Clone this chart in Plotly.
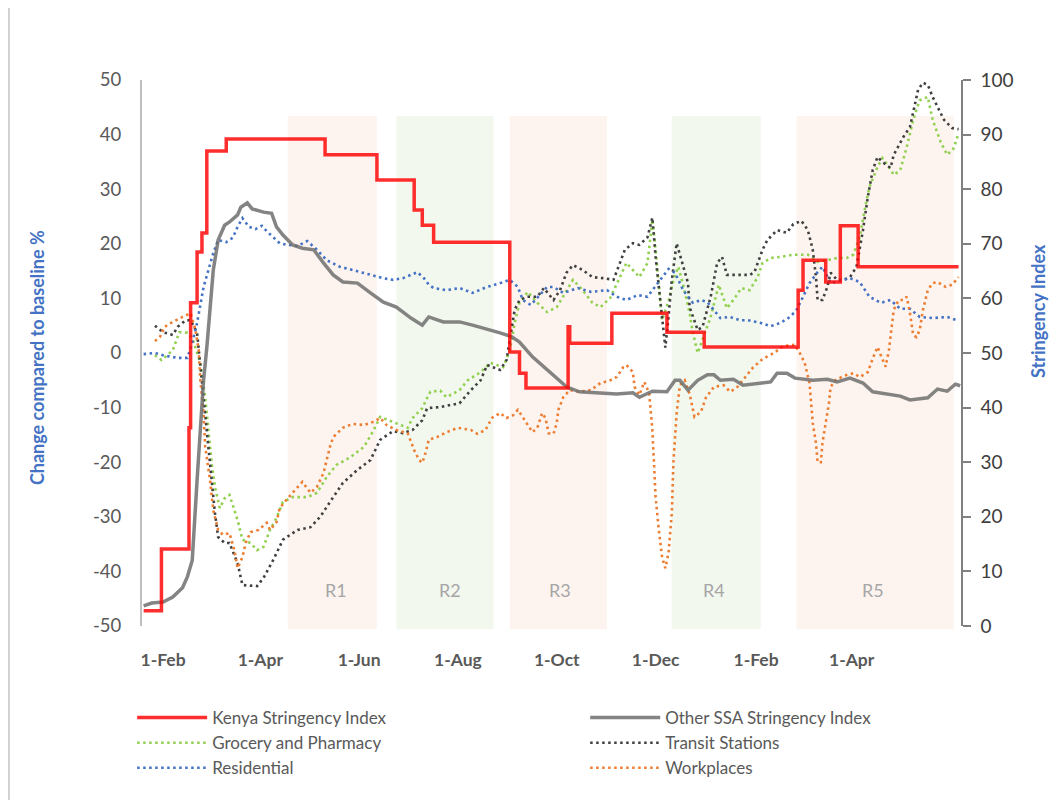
import plotly.graph_objects as go

# ---------------- data ----------------
kenya_dates = ["2020-01-20", "2020-01-31", "2020-02-17", "2020-02-18", "2020-02-22", "2020-02-25",
               "2020-02-28", "2020-03-11", "2020-05-11", "2020-06-12", "2020-07-05", "2020-07-10",
               "2020-07-17", "2020-09-02", "2020-09-08", "2020-09-12", "2020-10-08", "2020-10-09",
               "2020-11-04", "2020-12-08", "2020-12-31", "2021-02-27", "2021-03-02", "2021-03-16",
               "2021-03-25", "2021-04-05", "2021-06-06"]
kenya_si = [2.8, 14.1, 36.3, 59.2, 68.5, 72.0, 87.0, 89.2, 86.3, 81.7, 76.2, 73.4, 70.3, 50.2, 46.3,
            43.6, 54.8, 51.8, 57.3, 53.8, 51.1, 61.5, 67.0, 63.0, 73.3, 65.8, 65.8]

ssa_dates = ["2020-01-20", "2020-01-25", "2020-02-01", "2020-02-07", "2020-02-13", "2020-02-16",
             "2020-02-19", "2020-02-20", "2020-02-22", "2020-02-24", "2020-02-26", "2020-02-28",
             "2020-03-01", "2020-03-03", "2020-03-06", "2020-03-10", "2020-03-13", "2020-03-18",
             "2020-03-20", "2020-03-24", "2020-03-27", "2020-04-03", "2020-04-08", "2020-04-11",
             "2020-04-15", "2020-04-21", "2020-04-27", "2020-05-04", "2020-05-10", "2020-05-16",
             "2020-05-22", "2020-05-31", "2020-06-08", "2020-06-16", "2020-06-24", "2020-07-03",
             "2020-07-10", "2020-07-14", "2020-07-23", "2020-08-02", "2020-08-10", "2020-08-19",
             "2020-08-27", "2020-09-03", "2020-09-08", "2020-09-16", "2020-09-25", "2020-10-02",
             "2020-10-07", "2020-10-15", "2020-10-28", "2020-11-07", "2020-11-17", "2020-11-21",
             "2020-11-29", "2020-12-08", "2020-12-13", "2020-12-16", "2020-12-21", "2020-12-27",
             "2021-01-02", "2021-01-06", "2021-01-10", "2021-01-18", "2021-01-24", "2021-02-05",
             "2021-02-10", "2021-02-14", "2021-02-20", "2021-02-25", "2021-03-08", "2021-03-17",
             "2021-03-23", "2021-03-31", "2021-04-08", "2021-04-14", "2021-04-23", "2021-05-01",
             "2021-05-07", "2021-05-18", "2021-05-24", "2021-05-30", "2021-06-04", "2021-06-07"]
ssa_si = [3.7, 4.2, 4.4, 5.3, 7.0, 9.0, 12.0, 17.6, 26.7, 35.9, 45.0, 51.0, 59.2, 65.2, 70.7, 73.4,
          74.0, 75.3, 76.7, 77.5, 76.4, 75.8, 75.6, 73.1, 71.6, 69.8, 69.2, 68.9, 66.5, 64.3, 63.0,
          62.8, 61.0, 59.3, 58.4, 56.4, 55.1, 56.6, 55.7, 55.7, 55.1, 54.4, 53.7, 53.0, 52.0, 49.3,
          46.9, 45.0, 43.8, 42.9, 42.7, 42.5, 42.7, 41.9, 43.0, 42.9, 45.0, 45.0, 43.2, 45.0, 46.0,
          46.0, 45.0, 45.2, 44.1, 44.5, 44.7, 46.3, 46.3, 45.4, 45.0, 45.2, 44.7, 45.4, 44.5, 42.9,
          42.5, 42.1, 41.4, 41.8, 43.4, 43.0, 44.3, 44.0]

grocery_dates = ["2020-01-27", "2020-01-31", "2020-02-07", "2020-02-10", "2020-02-11", "2020-02-16",
                 "2020-02-19", "2020-02-24", "2020-02-27", "2020-02-29", "2020-03-02", "2020-03-04",
                 "2020-03-07", "2020-03-10", "2020-03-13", "2020-03-18", "2020-03-21", "2020-03-26",
                 "2020-03-30", "2020-04-03", "2020-04-07", "2020-04-11", "2020-04-15", "2020-04-21",
                 "2020-04-30", "2020-05-06", "2020-05-12", "2020-05-18", "2020-05-26", "2020-06-04",
                 "2020-06-10", "2020-06-14", "2020-06-22", "2020-07-01", "2020-07-04", "2020-07-10",
                 "2020-07-13", "2020-07-15", "2020-07-21", "2020-07-25", "2020-08-02", "2020-08-07",
                 "2020-08-15", "2020-08-21", "2020-08-29", "2020-09-02", "2020-09-04", "2020-09-05",
                 "2020-09-08", "2020-09-13", "2020-09-19", "2020-09-25", "2020-10-01", "2020-10-07",
                 "2020-10-11", "2020-10-17", "2020-10-23", "2020-10-28", "2020-11-03", "2020-11-09",
                 "2020-11-13", "2020-11-17", "2020-11-21", "2020-11-26", "2020-11-29", "2020-12-01",
                 "2020-12-03", "2020-12-05", "2020-12-09", "2020-12-12", "2020-12-15", "2020-12-18",
                 "2020-12-22", "2020-12-24", "2020-12-27", "2020-12-30", "2021-01-04", "2021-01-09",
                 "2021-01-14", "2021-01-18", "2021-01-23", "2021-01-28", "2021-02-02", "2021-02-05",
                 "2021-02-10", "2021-02-16", "2021-02-24", "2021-03-05", "2021-03-11", "2021-03-17",
                 "2021-03-23", "2021-03-29", "2021-04-02", "2021-04-06", "2021-04-09", "2021-04-12",
                 "2021-04-17", "2021-04-20", "2021-04-24", "2021-04-27", "2021-05-01", "2021-05-05",
                 "2021-05-09", "2021-05-13", "2021-05-18", "2021-05-21", "2021-05-26", "2021-05-30",
                 "2021-06-03", "2021-06-06"]
grocery = [-0.4, -1.3, 0.5, 3.0, 3.8, 3.7, 2.8, -1.8, -8.1, -14.1, -20.1, -24.5, -28.4, -26.6, -26.0,
           -30.6, -34.2, -34.8, -36.1, -35.5, -32.4, -30.2, -27.3, -26.4, -26.4, -25.6, -22.7, -20.5,
           -19.2, -17.2, -14.1, -11.7, -12.6, -13.7, -11.9, -10.1, -8.2, -7.1, -6.9, -8.1, -6.8, -5.0,
           -3.5, -1.8, -2.6, 0.5, 3.7, 5.5, 9.2, 11.2, 9.2, 7.5, 8.4, 11.5, 13.4, 11.5, 9.2, 8.4, 10.1,
           13.9, 16.5, 15.2, 13.9, 16.5, 24.4, 18.9, 12.1, 6.0, 9.5, 13.4, 15.8, 12.5, 7.3, 3.7, 0.0,
           2.4, 6.6, 12.5, 8.2, 9.7, 11.9, 11.5, 13.9, 16.5, 17.4, 17.6, 18.0, 18.0, 16.7, 17.0, 17.4,
           17.4, 18.0, 21.2, 26.2, 30.4, 34.1, 35.7, 34.1, 32.6, 33.5, 37.7, 42.7, 46.3, 46.9, 42.7,
           38.6, 36.3, 37.5, 40.3]

transit_dates = ["2020-01-27", "2020-02-01", "2020-02-07", "2020-02-10", "2020-02-15", "2020-02-18",
                 "2020-02-22", "2020-02-25", "2020-02-27", "2020-02-29", "2020-03-02", "2020-03-04",
                 "2020-03-06", "2020-03-10", "2020-03-13", "2020-03-18", "2020-03-21", "2020-03-30",
                 "2020-04-03", "2020-04-09", "2020-04-15", "2020-04-24", "2020-05-02", "2020-05-08",
                 "2020-05-14", "2020-05-22", "2020-05-31", "2020-06-08", "2020-06-14", "2020-06-22",
                 "2020-06-28", "2020-07-04", "2020-07-10", "2020-07-13", "2020-07-21", "2020-07-29",
                 "2020-08-02", "2020-08-09", "2020-08-15", "2020-08-19", "2020-08-27", "2020-08-31",
                 "2020-09-02", "2020-09-05", "2020-09-08", "2020-09-13", "2020-09-19", "2020-09-23",
                 "2020-09-29", "2020-10-03", "2020-10-07", "2020-10-11", "2020-10-17", "2020-10-23",
                 "2020-10-30", "2020-11-05", "2020-11-09", "2020-11-12", "2020-11-17", "2020-11-21",
                 "2020-11-26", "2020-11-29", "2020-12-01", "2020-12-03", "2020-12-05", "2020-12-07",
                 "2020-12-09", "2020-12-11", "2020-12-14", "2020-12-17", "2020-12-21", "2020-12-22",
                 "2020-12-27", "2020-12-30", "2021-01-04", "2021-01-08", "2021-01-11", "2021-01-14",
                 "2021-01-20", "2021-01-28", "2021-01-31", "2021-02-05", "2021-02-08", "2021-02-14",
                 "2021-02-20", "2021-02-24", "2021-03-01", "2021-03-05", "2021-03-08", "2021-03-10",
                 "2021-03-11", "2021-03-14", "2021-03-17", "2021-03-19", "2021-03-23", "2021-03-27",
                 "2021-03-31", "2021-04-04", "2021-04-08", "2021-04-11", "2021-04-14", "2021-04-17",
                 "2021-04-20", "2021-04-25", "2021-04-27", "2021-04-30", "2021-05-03", "2021-05-07",
                 "2021-05-09", "2021-05-12", "2021-05-15", "2021-05-18", "2021-05-21", "2021-05-24",
                 "2021-05-28", "2021-06-02", "2021-06-06"]
transit = [5.0, 3.8, 3.3, 4.8, 6.0, 6.0, 3.7, -5.0, -11.0, -17.2, -23.3, -29.3, -33.7, -34.8, -34.8,
           -38.5, -42.5, -42.7, -41.2, -37.9, -34.2, -32.4, -31.9, -30.0, -27.3, -23.8, -21.4, -19.6,
           -15.9, -14.3, -14.7, -14.1, -12.3, -10.1, -9.9, -9.5, -9.2, -6.8, -5.0, -2.2, -3.1, -1.3,
           2.4, 7.9, 9.7, 10.3, 10.3, 11.9, 9.7, 11.5, 14.7, 16.1, 15.2, 13.9, 13.7, 13.4, 16.5, 18.9,
           20.1, 19.8, 21.2, 24.8, 17.6, 12.1, 5.5, 1.0, 6.6, 13.4, 20.1, 17.0, 12.8, 8.4, 4.2, 4.8,
           10.3, 16.5, 17.6, 14.3, 14.3, 14.3, 14.8, 18.9, 20.7, 22.5, 22.0, 23.6, 24.2, 22.5, 18.9,
           13.9, 9.7, 9.7, 12.1, 14.7, 13.4, 13.4, 13.9, 15.8, 22.5, 28.6, 33.5, 35.9, 35.0, 33.9,
           36.3, 38.1, 39.6, 41.4, 44.0, 48.2, 49.5, 49.1, 46.9, 45.1, 42.7, 41.2, 41.0]

residential_dates = ["2020-01-20", "2020-01-27", "2020-02-02", "2020-02-10", "2020-02-16", "2020-02-19",
                     "2020-02-22", "2020-02-24", "2020-02-26", "2020-02-29", "2020-03-03", "2020-03-06",
                     "2020-03-11", "2020-03-15", "2020-03-18", "2020-03-21", "2020-03-25", "2020-03-29",
                     "2020-04-02", "2020-04-05", "2020-04-09", "2020-04-13", "2020-04-18", "2020-04-24",
                     "2020-04-30", "2020-05-06", "2020-05-12", "2020-05-20", "2020-05-28", "2020-06-08",
                     "2020-06-16", "2020-06-22", "2020-06-28", "2020-07-07", "2020-07-11", "2020-07-14",
                     "2020-07-17", "2020-07-25", "2020-08-02", "2020-08-10", "2020-08-19", "2020-08-27",
                     "2020-09-02", "2020-09-07", "2020-09-10", "2020-09-15", "2020-09-19", "2020-09-25",
                     "2020-09-29", "2020-10-05", "2020-10-14", "2020-10-22", "2020-11-01", "2020-11-07",
                     "2020-11-13", "2020-11-20", "2020-11-26", "2020-11-30", "2020-12-06", "2020-12-09",
                     "2020-12-13", "2020-12-18", "2020-12-24", "2020-12-29", "2021-01-02", "2021-01-06",
                     "2021-01-10", "2021-01-16", "2021-01-22", "2021-01-27", "2021-02-04", "2021-02-10",
                     "2021-02-16", "2021-02-22", "2021-02-26", "2021-03-02", "2021-03-06", "2021-03-11",
                     "2021-03-14", "2021-03-19", "2021-03-25", "2021-03-31", "2021-04-06", "2021-04-12",
                     "2021-04-19", "2021-04-25", "2021-05-01", "2021-05-07", "2021-05-13", "2021-05-21",
                     "2021-05-30", "2021-06-06"]
residential = [-0.2, 0.0, -0.5, -0.9, -0.9, 1.8, 5.5, 9.2, 12.1, 15.2, 18.3, 20.7, 20.3, 21.1, 23.1,
               24.7, 23.1, 22.7, 23.3, 22.3, 21.2, 20.1, 19.8, 19.6, 20.5, 18.9, 17.0, 15.8, 15.2, 14.3,
               13.7, 13.4, 13.7, 14.8, 13.7, 12.5, 11.9, 11.5, 11.9, 11.0, 12.1, 12.8, 13.4, 12.1, 9.7,
               8.8, 10.1, 12.1, 12.1, 11.0, 11.9, 11.2, 11.5, 10.3, 9.7, 10.6, 10.3, 11.9, 14.3, 15.4,
               14.7, 11.5, 9.2, 9.7, 9.3, 7.9, 6.4, 6.6, 6.0, 6.0, 5.5, 4.9, 5.5, 6.6, 7.9, 10.3, 12.8,
               14.8, 15.8, 12.8, 13.2, 13.7, 13.0, 10.3, 9.2, 9.7, 8.1, 8.1, 6.6, 6.4, 6.6, 5.9]

workplaces_dates = ["2020-01-27", "2020-01-30", "2020-02-02", "2020-02-07", "2020-02-13", "2020-02-18",
                    "2020-02-21", "2020-02-23", "2020-02-24", "2020-02-26", "2020-02-27", "2020-03-01",
                    "2020-03-03", "2020-03-06", "2020-03-09", "2020-03-13", "2020-03-16", "2020-03-18",
                    "2020-03-21", "2020-03-23", "2020-03-26", "2020-03-31", "2020-04-05", "2020-04-07",
                    "2020-04-11", "2020-04-13", "2020-04-18", "2020-04-24", "2020-04-27", "2020-05-02",
                    "2020-05-06", "2020-05-10", "2020-05-14", "2020-05-16", "2020-05-22", "2020-05-28",
                    "2020-06-04", "2020-06-10", "2020-06-14", "2020-06-18", "2020-06-24", "2020-07-01",
                    "2020-07-05", "2020-07-08", "2020-07-10", "2020-07-12", "2020-07-14", "2020-07-19",
                    "2020-07-25", "2020-08-01", "2020-08-09", "2020-08-13", "2020-08-18", "2020-08-22",
                    "2020-08-27", "2020-08-31", "2020-09-04", "2020-09-07", "2020-09-12", "2020-09-16",
                    "2020-09-19", "2020-09-22", "2020-09-24", "2020-09-26", "2020-09-29", "2020-10-01",
                    "2020-10-02", "2020-10-05", "2020-10-09", "2020-10-15", "2020-10-22", "2020-10-28",
                    "2020-11-03", "2020-11-07", "2020-11-11", "2020-11-13", "2020-11-17", "2020-11-18",
                    "2020-11-21", "2020-11-24", "2020-11-27", "2020-11-29", "2020-11-30", "2020-12-01",
                    "2020-12-03", "2020-12-05", "2020-12-07", "2020-12-09", "2020-12-11", "2020-12-12",
                    "2020-12-14", "2020-12-16", "2020-12-19", "2020-12-22", "2020-12-25", "2020-12-29",
                    "2021-01-01", "2021-01-06", "2021-01-12", "2021-01-16", "2021-01-20", "2021-01-27",
                    "2021-01-30", "2021-02-05", "2021-02-12", "2021-02-18", "2021-02-25", "2021-02-28",
                    "2021-03-03", "2021-03-06", "2021-03-08", "2021-03-10", "2021-03-11", "2021-03-13",
                    "2021-03-14", "2021-03-16", "2021-03-18", "2021-03-19", "2021-03-22", "2021-03-27",
                    "2021-04-02", "2021-04-06", "2021-04-11", "2021-04-14", "2021-04-17", "2021-04-19",
                    "2021-04-22", "2021-04-24", "2021-04-26", "2021-04-27", "2021-04-30", "2021-05-03",
                    "2021-05-05", "2021-05-07", "2021-05-09", "2021-05-11", "2021-05-13", "2021-05-15",
                    "2021-05-18", "2021-05-21", "2021-05-24", "2021-05-29", "2021-06-02", "2021-06-06"]
workplaces = [2.2, 2.9, 4.8, 5.7, 6.6, 7.3, 4.2, 0.5, -5.0, -11.0, -17.2, -23.3, -28.8, -32.4, -33.3,
              -33.0, -36.1, -39.4, -37.4, -34.8, -32.8, -32.4, -31.1, -32.4, -31.0, -28.4, -26.6, -24.5,
              -23.6, -25.6, -24.5, -22.0, -17.2, -15.4, -13.7, -13.0, -13.2, -12.6, -11.9, -13.2, -14.1,
              -14.7, -17.8, -19.6, -20.1, -18.3, -15.9, -15.4, -14.5, -13.7, -14.1, -14.8, -14.1, -11.9,
              -11.0, -11.9, -11.4, -10.4, -12.6, -14.5, -13.7, -11.0, -11.9, -14.7, -14.8, -12.8, -10.4,
              -8.1, -6.8, -7.1, -6.8, -5.5, -5.0, -4.4, -2.6, -2.2, -3.5, -6.2, -7.7, -5.3, -7.3, -14.1,
              -20.1, -26.4, -32.4, -37.4, -39.4, -36.6, -29.3, -20.0, -11.0, -5.9, -5.0, -7.5, -11.7,
              -10.8, -8.2, -6.2, -5.9, -7.1, -6.4, -3.7, -2.7, -1.1, 0.0, 1.3, 1.5, 0.0, -1.8, -5.5,
              -12.8, -16.5, -20.0, -20.0, -16.5, -12.8, -9.2, -6.2, -5.0, -4.2, -3.7, -4.4, -3.5, -1.0,
              1.1, -0.4, -2.5, 0.5, 5.5, 7.9, 9.7, 9.7, 10.3, 7.3, 3.3, 2.9, 4.2, 7.9, 11.5, 12.8, 13.0,
              12.1, 12.5, 13.9]

tick_dates = ["2020-02-01", "2020-04-01", "2020-06-01", "2020-08-01", "2020-10-01", "2020-12-01",
              "2021-02-01", "2021-04-01"]
tick_labels = ["1-Feb", "1-Apr", "1-Jun", "1-Aug", "1-Oct", "1-Dec", "1-Feb", "1-Apr"]
left_ticks = [-50, -40, -30, -20, -10, 0, 10, 20, 30, 40, 50]
left_tick_labels = ["-50", "-40", "-30", "-20", "-10", "0", "10", "20", "30", "40", "50"]

region_names = ["R1", "R2", "R3", "R4", "R5"]
region_starts = ["2020-04-18", "2020-06-24", "2020-09-02", "2020-12-11", "2021-02-26"]
region_ends = ["2020-06-12", "2020-08-23", "2020-11-01", "2021-02-04", "2021-06-03"]
region_label_dates = ["2020-05-18", "2020-07-27", "2020-10-03", "2021-01-06", "2021-04-14"]

# ---------------- styles ----------------
PINK = "rgba(252,236,230,0.6)"
GREEN = "rgba(226,239,218,0.42)"
region_fill = [PINK, GREEN, PINK, GREEN, PINK]
FONT = "Lato"
GREY_TXT = "#595959"
DOT = "2.5px,3.5px"

fig = go.Figure()

dotted = [
    ("Grocery and Pharmacy", grocery_dates, grocery, "#92D050", 3),
    ("Transit Stations", transit_dates, transit, "#404040", 4),
    ("Residential", residential_dates, residential, "#4472C4", 5),
    ("Workplaces", workplaces_dates, workplaces, "#ED7D31", 6),
]
for name, xs, ys, col, rank in dotted:
    fig.add_trace(go.Scatter(x=xs, y=ys, name=name, mode="lines", legendrank=rank,
                             line=dict(color=col, width=2.6, dash=DOT), yaxis="y"))

fig.add_trace(go.Scatter(x=ssa_dates, y=ssa_si, name="Other SSA Stringency Index", mode="lines",
                         legendrank=2, line=dict(color="rgba(110,110,110,0.85)", width=3.5),
                         yaxis="y2"))
fig.add_trace(go.Scatter(x=kenya_dates, y=kenya_si, name="Kenya Stringency Index", mode="lines",
                         legendrank=1, line=dict(color="rgba(255,0,0,0.82)", width=3.5, shape="hv"),
                         yaxis="y2"))

shapes = []
for s, e, c in zip(region_starts, region_ends, region_fill):
    shapes.append(dict(type="rect", xref="x", yref="paper", x0=s, x1=e, y0=-0.006, y1=0.934,
                       fillcolor=c, line=dict(width=0), layer="below"))
# left chart-area border
shapes.append(dict(type="line", xref="paper", yref="paper", x0=-0.1624, x1=-0.1624, y0=-0.32,
                   y1=1.14, line=dict(color="#A6A6A6", width=1)))

annotations = []
for n, d in zip(region_names, region_label_dates):
    annotations.append(dict(x=d, y=0.066, xref="x", yref="paper", text=n, showarrow=False,
                            xanchor="center", yanchor="middle",
                            font=dict(family=FONT, size=18, color="#A6A6A6")))
annotations.append(dict(x=-0.128, y=0.491, xref="paper", yref="paper",
                        text="<b>Change compared to baseline %</b>", textangle=-90,
                        xanchor="center", yanchor="middle",
                        showarrow=False, font=dict(family=FONT, size=18, color="#4472C4")))
annotations.append(dict(x=1.094, y=0.577, xref="paper", yref="paper",
                        text="<b>Stringency Index</b>", textangle=-90,
                        xanchor="center", yanchor="middle",
                        showarrow=False, font=dict(family=FONT, size=18, color="#4472C4")))

# the page body has an 8px margin, so the figure is 8px smaller each way
fig.update_layout(
    width=1055, height=792,
    margin=dict(l=134, r=102, t=72, b=174, autoexpand=False),
    paper_bgcolor="white", plot_bgcolor="white",
    font=dict(family=FONT, color=GREY_TXT),
    shapes=shapes, annotations=annotations,
    xaxis=dict(type="date", range=["2020-01-19", "2021-06-07 12:00"], tickvals=tick_dates,
               ticktext=tick_labels, showgrid=False, zeroline=False, showline=False,
               ticks="outside", ticklen=18, tickcolor="rgba(0,0,0,0)",
               tickfont=dict(family=FONT, size=17.5, color=GREY_TXT, weight="bold")),
    yaxis=dict(range=[-50, 50], tickvals=left_ticks, ticktext=left_tick_labels,
               showgrid=False, zeroline=False, showline=True,
               linecolor="#BFBFBF", linewidth=2, ticks="outside", ticklen=15,
               tickcolor="rgba(0,0,0,0)",
               tickfont=dict(family=FONT, size=18.5, color=GREY_TXT)),
    yaxis2=dict(range=[0, 100], dtick=10, overlaying="y", side="right", showgrid=False,
                zeroline=False, showline=True, linecolor="#808080", linewidth=1.5,
                ticks="outside", ticklen=8, tickcolor="#808080", tickwidth=1.5,
                ticklabelstandoff=6,
                tickfont=dict(family=FONT, size=19, color="#404040")),
    legend=dict(orientation="h", x=-0.012, xanchor="left", y=-0.1356, yanchor="top",
                entrywidth=368, itemwidth=70, tracegroupgap=0,
                font=dict(family=FONT, size=17, color=GREY_TXT), bgcolor="rgba(0,0,0,0)"),
    showlegend=True,
)

fig.write_html("out.html")
